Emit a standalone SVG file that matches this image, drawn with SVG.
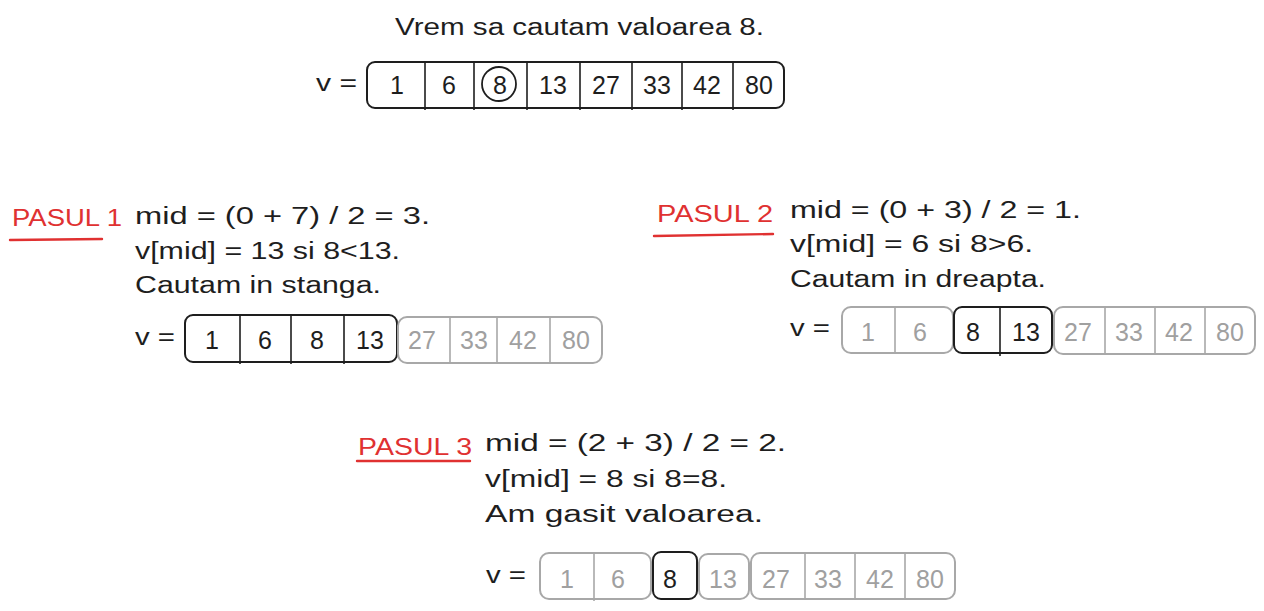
<svg xmlns="http://www.w3.org/2000/svg" width="1264" height="611" viewBox="0 0 1264 611">
<style>
text{font-family:"Liberation Sans","DejaVu Sans",sans-serif;font-size:23px;fill:#1e1e1e}
.c text{font-size:25px}
.red{fill:#e03131}
.c{text-anchor:middle}
.g{fill:#a0a0a0}
.bx{fill:none;stroke:#1e1e1e;stroke-width:2}
.gb{fill:none;stroke:#a8a8a8;stroke-width:2}
.ln{stroke:#1e1e1e;stroke-width:1.6}
.gl{stroke:#a8a8a8;stroke-width:1.6}
.ul{stroke:#e03131;stroke-width:2.4;stroke-linecap:round}
</style>
<rect width="1264" height="611" fill="#ffffff"/>
<g id="connectors"></g>

<g id="title">
<text x="395" y="35" textLength="369" lengthAdjust="spacingAndGlyphs">Vrem sa cautam valoarea 8.</text>
</g>

<g id="array-initial">
<text x="316" y="91" textLength="41" lengthAdjust="spacingAndGlyphs">v =</text>
<rect class="bx" x="367" y="62" width="417" height="46" rx="8"/>
<line class="ln" x1="425" y1="62" x2="425" y2="110"/>
<line class="ln" x1="474" y1="62" x2="474" y2="110"/>
<line class="ln" x1="527" y1="62" x2="527" y2="110"/>
<line class="ln" x1="580" y1="62" x2="580" y2="110"/>
<line class="ln" x1="632" y1="62" x2="632" y2="110"/>
<line class="ln" x1="682" y1="62" x2="682" y2="110"/>
<line class="ln" x1="733" y1="62" x2="733" y2="110"/>
<circle cx="499" cy="84" r="17" fill="none" stroke="#1e1e1e" stroke-width="1.8"/>
<g class="c">
<text x="397" y="94">1</text><text x="449" y="94">6</text><text x="500" y="94">8</text><text x="553" y="94">13</text>
<text x="606" y="94">27</text><text x="657" y="94">33</text><text x="707" y="94">42</text><text x="759" y="94">80</text>
</g>
</g>

<g id="step1">
<text class="red" x="12" y="226" textLength="110" lengthAdjust="spacingAndGlyphs">PASUL 1</text>
<line class="ul" x1="10" y1="240" x2="102" y2="239"/>
<text x="135" y="224" textLength="295" lengthAdjust="spacingAndGlyphs">mid = (0 + 7) / 2 = 3.</text>
<text x="135" y="259" textLength="265" lengthAdjust="spacingAndGlyphs">v[mid] = 13 si 8&lt;13.</text>
<text x="135" y="293" textLength="246" lengthAdjust="spacingAndGlyphs">Cautam in stanga.</text>
</g>

<g id="array-step1">
<text x="135" y="345" textLength="40" lengthAdjust="spacingAndGlyphs">v =</text>
<rect class="bx" x="185" y="315" width="212" height="47" rx="8"/>
<line class="ln" x1="240" y1="315" x2="240" y2="364"/>
<line class="ln" x1="291" y1="315" x2="291" y2="364"/>
<line class="ln" x1="344" y1="315" x2="344" y2="364"/>
<rect class="gb" x="398" y="317" width="204" height="46" rx="9"/>
<line class="gl" x1="450" y1="317" x2="450" y2="363"/>
<line class="gl" x1="497" y1="317" x2="497" y2="363"/>
<line class="gl" x1="550" y1="317" x2="550" y2="363"/>
<g class="c">
<text x="212" y="349">1</text><text x="265" y="349">6</text><text x="317" y="349">8</text><text x="370" y="349">13</text>
<text class="g" x="422" y="349">27</text><text class="g" x="474" y="349">33</text><text class="g" x="523" y="349">42</text><text class="g" x="576" y="349">80</text>
</g>
</g>

<g id="step2">
<text class="red" x="657" y="222" textLength="116" lengthAdjust="spacingAndGlyphs">PASUL 2</text>
<line class="ul" x1="654" y1="236" x2="773" y2="234"/>
<text x="790" y="218" textLength="291" lengthAdjust="spacingAndGlyphs">mid = (0 + 3) / 2 = 1.</text>
<text x="790" y="252" textLength="243" lengthAdjust="spacingAndGlyphs">v[mid] = 6 si 8&gt;6.</text>
<text x="790" y="287" textLength="256" lengthAdjust="spacingAndGlyphs">Cautam in dreapta.</text>
</g>

<g id="array-step2">
<text x="790" y="336" textLength="40" lengthAdjust="spacingAndGlyphs">v =</text>
<rect class="gb" x="842" y="307" width="111" height="46" rx="9"/>
<line class="gl" x1="895" y1="307" x2="895" y2="354"/>
<rect class="bx" x="954" y="307" width="98" height="46" rx="8"/>
<line class="ln" x1="1000" y1="307" x2="1000" y2="356"/>
<rect class="gb" x="1054" y="307" width="201" height="47" rx="9"/>
<line class="gl" x1="1105" y1="307" x2="1105" y2="354"/>
<line class="gl" x1="1155" y1="307" x2="1155" y2="354"/>
<line class="gl" x1="1205" y1="307" x2="1205" y2="354"/>
<g class="c">
<text class="g" x="868" y="341">1</text><text class="g" x="920" y="341">6</text><text x="973" y="341">8</text><text x="1026" y="341">13</text>
<text class="g" x="1078" y="341">27</text><text class="g" x="1129" y="341">33</text><text class="g" x="1179" y="341">42</text><text class="g" x="1230" y="341">80</text>
</g>
</g>

<g id="step3">
<text class="red" x="358" y="455" textLength="114" lengthAdjust="spacingAndGlyphs">PASUL 3</text>
<line class="ul" x1="357" y1="461" x2="470" y2="461"/>
<text x="485" y="451" textLength="301" lengthAdjust="spacingAndGlyphs">mid = (2 + 3) / 2 = 2.</text>
<text x="485" y="487" textLength="242" lengthAdjust="spacingAndGlyphs">v[mid] = 8 si 8=8.</text>
<text x="485" y="522" textLength="278" lengthAdjust="spacingAndGlyphs">Am gasit valoarea.</text>
</g>

<g id="array-step3">
<text x="486" y="583" textLength="40" lengthAdjust="spacingAndGlyphs">v =</text>
<rect class="gb" x="540" y="553" width="111" height="46" rx="9"/>
<line class="gl" x1="594" y1="553" x2="594" y2="601"/>
<rect class="bx" x="653" y="552" width="44" height="47" rx="8"/>
<rect class="gb" x="699" y="554" width="50" height="45" rx="9"/>
<rect class="gb" x="751" y="553" width="204" height="46" rx="9"/>
<line class="gl" x1="805" y1="553" x2="805" y2="600"/>
<line class="gl" x1="855" y1="553" x2="855" y2="600"/>
<line class="gl" x1="905" y1="553" x2="905" y2="600"/>
<g class="c">
<text class="g" x="567" y="588">1</text><text class="g" x="618" y="588">6</text><text x="670" y="588">8</text><text class="g" x="723" y="588">13</text>
<text class="g" x="776" y="588">27</text><text class="g" x="828" y="588">33</text><text class="g" x="880" y="588">42</text><text class="g" x="930" y="588">80</text>
</g>
</g>
</svg>
